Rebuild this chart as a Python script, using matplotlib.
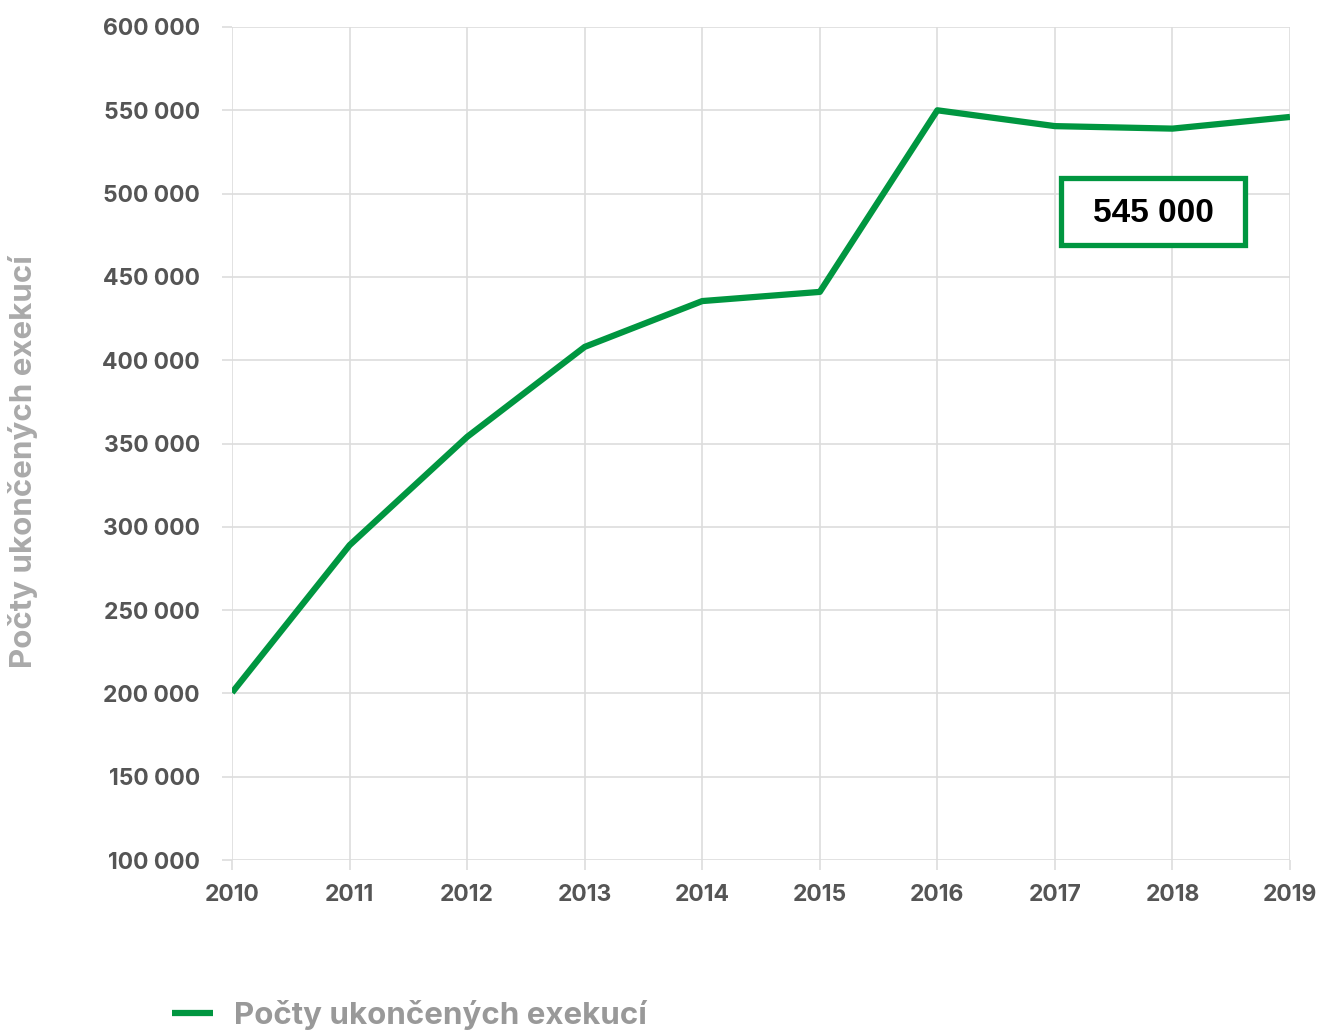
import numpy as np
import matplotlib.pyplot as plt
from matplotlib.patches import Rectangle
from matplotlib.ticker import FuncFormatter

# Data
years = [2010, 2011, 2012, 2013, 2014, 2015, 2016, 2017, 2018, 2019]
ukoncene = [200500, 289000, 354000, 408000, 435500, 441000, 550000, 540500, 539000, 546000]
series_label = 'Počty ukončených exekucí'
box_text = '545 000'

green = '#009640'
plt.rcParams['font.family'] = ['Inter', 'DejaVu Sans']

fig = plt.figure(figsize=(13.17, 10.30), dpi=100)
ax = fig.add_axes([0.1762, 0.165, 0.8033, 0.8088])

ax.plot(years, ukoncene, color=green, lw=4.5, label=series_label, solid_capstyle='butt', zorder=3)

ax.set_xlim(2010, 2019)
ax.set_ylim(100000, 600000)
ax.set_xticks(years)
ax.set_yticks(np.arange(100000, 600001, 50000))
ax.yaxis.set_major_formatter(FuncFormatter(lambda v, p: f'{int(v):,}'.replace(',', ' ')))

ax.grid(True, color='#dddddd', lw=1.2)
for s in ax.spines.values():
    s.set_visible(False)
ax.tick_params(axis='both', length=7, color='#dddddd', width=1.2, labelcolor='#555555', labelsize=16.5)
ax.tick_params(axis='y', pad=16)
ax.tick_params(axis='x', pad=10)
for lab in ax.get_xticklabels() + ax.get_yticklabels():
    lab.set_fontweight('bold')

ax.set_ylabel(series_label, color='#aaaaaa', fontsize=22.5, fontweight='bold')
ax.yaxis.set_label_coords(-0.183, 0.478)

# annotation box
ax.add_patch(Rectangle((2017.052, 469150), 1.565, 40200, facecolor='white', edgecolor=green,
                       linewidth=3.8, zorder=5))
ax.text(2017.835, 488200, box_text, ha='center', va='center', fontsize=24, fontweight='bold',
        color='black', family='Liberation Sans', zorder=6)

leg = fig.legend(loc='lower left', bbox_to_anchor=(0.1306, 0.0), frameon=False,
                 fontsize=22.5, handlelength=1.3, handletextpad=0.67,
                 borderpad=0, borderaxespad=0)
for t in leg.get_texts():
    t.set_color('#999999')
    t.set_fontweight('bold')

fig.savefig('out.png', dpi=100)
